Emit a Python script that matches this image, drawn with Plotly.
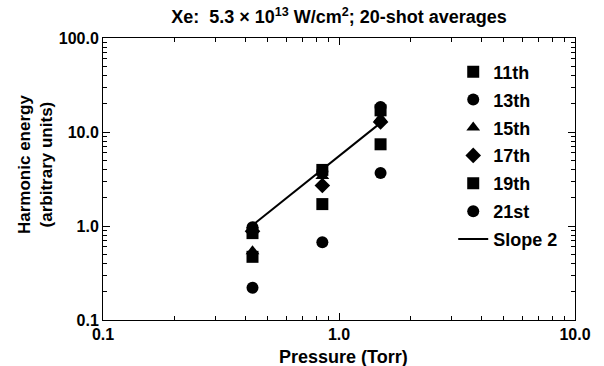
import plotly.graph_objects as go

# Gas pressure (Torr) at which each harmonic was measured
pressure = [0.43, 0.85, 1.5]

# Harmonic energy (arbitrary units), 20-shot averages
h11 = [0.84, 3.95, 17.0]
h13 = [0.97, 3.80, 18.4]
h15 = [0.54, 3.40, 14.0]
h17 = [0.88, 2.70, 12.8]
h19 = [0.47, 1.71, 7.4]
h21 = [0.22, 0.67, 3.66]

# Reference line of slope 2 on log-log axes
slope_x = [0.43, 1.5]
slope_y = [1.02, 12.5]

series = [
    ("11th", h11, "square", 12),
    ("13th", h13, "circle", 12),
    ("15th", h15, "triangle-up", 12),
    ("17th", h17, "diamond", 12),
    ("19th", h19, "square", 12),
    ("21st", h21, "circle", 12),
]

FONT = "Liberation Sans, Arial, Helvetica, sans-serif"

fig = go.Figure()
for i, (name, vals, sym, size) in enumerate(series):
    fig.add_trace(go.Scatter(
        x=pressure, y=vals, mode="markers", name=name,
        legendgroup=f"g{i}",
        marker=dict(symbol=sym, size=size, color="black", line=dict(width=0)),
    ))

fig.add_trace(go.Scatter(
    x=slope_x, y=slope_y, mode="lines", name="Slope 2",
    legendgroup="g6",
    line=dict(color="black", width=2),
))

minor_vals = [m * 10 ** e for e in (-2, -1, 0, 1) for m in range(2, 10)]

axis_common = dict(
    type="log",
    showgrid=False,
    zeroline=False,
    showline=True,
    linecolor="black",
    linewidth=1,
    mirror="allticks",
    ticks="inside",
    ticklen=7,
    tickwidth=1,
    tickcolor="black",
    tickfont=dict(family=FONT, size=16, color="black", weight="bold"),
    minor=dict(tickvals=minor_vals, ticks="inside", ticklen=4,
               tickwidth=1, tickcolor="black", showgrid=False),
)

fig.update_xaxes(
    range=[-1, 1],
    tickvals=[0.1, 1, 10],
    ticktext=["0.1", "1.0", "10.0"],
    **axis_common,
)
fig.update_yaxes(
    range=[-1, 2],
    tickvals=[0.1, 1, 10, 100],
    ticktext=["0.1", "1.0", "10.0", "100.0"],
    **axis_common,
)

plot_w = 604 - 103 - 29
plot_h = 366 - 38 - 46

fig.update_layout(
    width=604, height=366,
    margin=dict(l=103, r=29, t=38, b=46),
    paper_bgcolor="white",
    plot_bgcolor="white",
    font=dict(family=FONT, color="black"),
    title=dict(
        text="Xe:  5.3 × 10<sup>13</sup> W/cm<sup>2</sup>; 20-shot averages",
        x=0.5, xref="paper", xanchor="center",
        y=1 - 17 / 366, yref="container", yanchor="middle",
        font=dict(family=FONT, size=18, color="black", weight="bold"),
    ),
    legend=dict(
        x=0.742, y=0.945, xanchor="left", yanchor="top",
        bgcolor="rgba(0,0,0,0)",
        font=dict(family=FONT, size=18, color="black", weight="bold"),
        tracegroupgap=1.5,
        itemclick=False,
    ),
    showlegend=True,
    annotations=[
        dict(
            text="Harmonic energy<br>(arbitrary units)",
            x=(35 - 103) / plot_w, y=(320 - 165) / plot_h,
            xref="paper", yref="paper",
            xanchor="center", yanchor="middle",
            showarrow=False, textangle=-90,
            font=dict(family=FONT, size=17, color="black", weight="bold"),
        ),
        dict(
            text="Pressure (Torr)",
            x=(343 - 103) / plot_w, y=(320 - 357) / plot_h,
            xref="paper", yref="paper",
            xanchor="center", yanchor="middle",
            showarrow=False,
            font=dict(family=FONT, size=18, color="black", weight="bold"),
        ),
    ],
)

fig.write_html("out.html")
